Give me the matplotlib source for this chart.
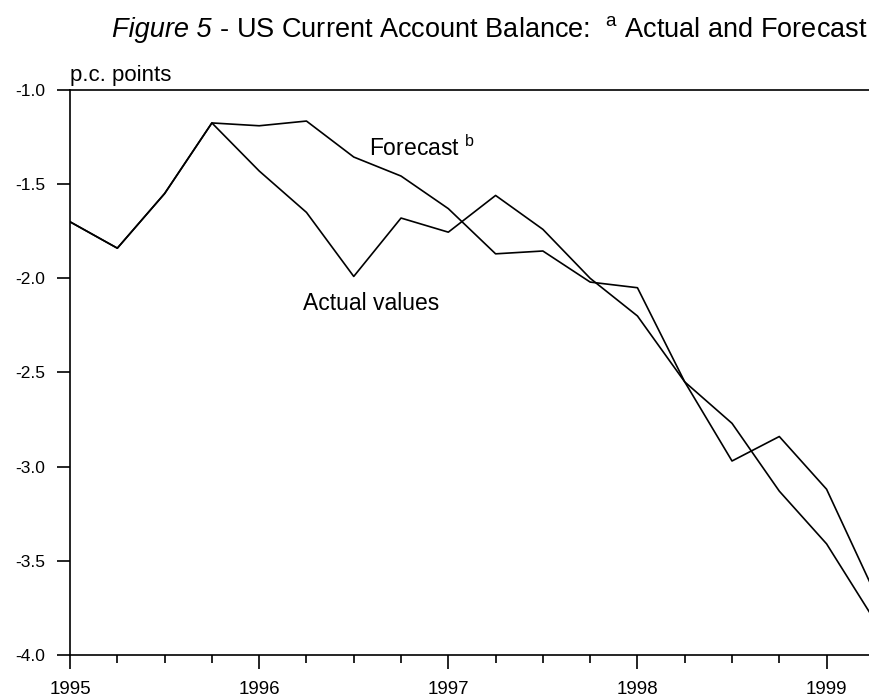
import numpy as np
import matplotlib
matplotlib.use("Agg")
import matplotlib.pyplot as plt
from matplotlib.ticker import MultipleLocator

plt.rcParams['font.family'] = 'Liberation Sans'
plt.rcParams['mathtext.fontset'] = 'custom'
plt.rcParams['mathtext.rm'] = 'Liberation Sans'
plt.rcParams['mathtext.it'] = 'Liberation Sans:italic'

# quarterly dates, 1995Q1 .. 1999Q2
quarters = 1995 + np.arange(18) * 0.25

# actual values (p.c. points)
actual = [-1.70, -1.84, -1.55, -1.175, -1.43, -1.65, -1.99, -1.68, -1.755,
          -1.56, -1.74, -2.00, -2.20, -2.55, -2.97, -2.84, -3.12, -3.66]
# forecast
forecast = [-1.70, -1.84, -1.55, -1.175, -1.19, -1.165, -1.356, -1.457, -1.63,
            -1.87, -1.855, -2.02, -2.05, -2.55, -2.77, -3.13, -3.41, -3.81]

year_ticks = [1995, 1996, 1997, 1998, 1999]
y_ticks = [-4.0, -3.5, -3.0, -2.5, -2.0, -1.5, -1.0]

fig = plt.figure(figsize=(8.69, 6.97), dpi=100)
ax = fig.add_axes([0.0806, 0.0603, 0.925, 0.8106])

ax.plot(quarters, actual, color='black', lw=1.2)
ax.plot(quarters, forecast, color='black', lw=1.2)

ax.set_xlim(1995, 1999.25)
ax.set_ylim(-4.0, -1.0)
ax.set_xticks(year_ticks)
ax.set_xticklabels([str(y) for y in year_ticks])
ax.xaxis.set_minor_locator(MultipleLocator(0.25))
ax.set_yticks(y_ticks)
ax.set_yticklabels(['%.1f' % v for v in y_ticks])

ax.spines['right'].set_visible(False)
for s in ['left', 'bottom', 'top']:
    ax.spines[s].set_linewidth(1.2)
ax.tick_params(axis='x', which='major', direction='out', length=10, width=1.2,
               labelsize=13.5, pad=9)
ax.tick_params(axis='x', which='minor', direction='out', length=6, width=1.2)
ax.tick_params(axis='y', direction='out', length=9.5, width=1.2, labelsize=12.5, pad=8.5)

ax.text(1996.58, -1.35, r'Forecast $^{\rm b}$', fontsize=16.5, ha='left', va='baseline')
ax.text(1996.23, -2.168, 'Actual values', fontsize=16.5, ha='left', va='baseline')

fig.text(0.0806, 0.8838, 'p.c. points', fontsize=16, ha='left', va='baseline')

# title: italic "Figure 5" followed by the rest, set side by side
title_y = 0.947
t1 = fig.text(0, title_y, 'Figure 5', fontsize=19.5, style='italic',
              ha='left', va='baseline')
t2 = fig.text(0, title_y, r' - US Current Account Balance:  $^{\rm a}$ Actual and Forecast',
              fontsize=19.5, ha='left', va='baseline')
r = fig.canvas.get_renderer()
w1 = t1.get_window_extent(r).width / fig.bbox.width
w2 = t2.get_window_extent(r).width / fig.bbox.width
x0 = 0.564 - (w1 + w2) / 2
t1.set_x(x0)
t2.set_x(x0 + w1)

fig.savefig('out.png', dpi=100)
